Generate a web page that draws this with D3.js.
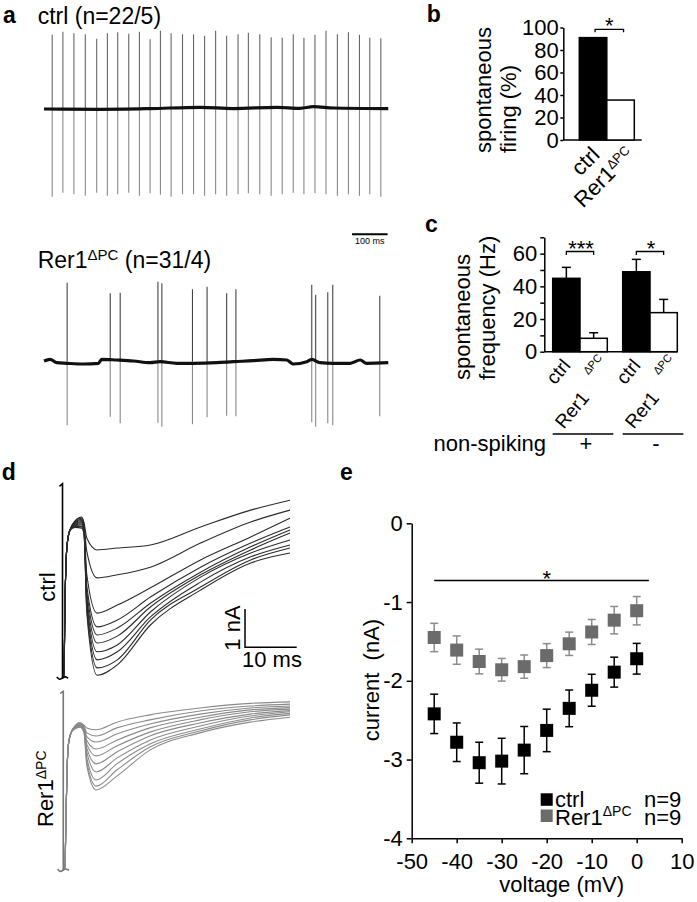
<!DOCTYPE html>
<html>
<head>
<meta charset="utf-8">
<script src="https://cdn.jsdelivr.net/npm/d3@7/dist/d3.min.js"></script>
<style>
html,body{margin:0;padding:0;background:#fff;}
svg{display:block;}
</style>
</head>
<body>
<svg id="fig" width="697" height="902" xmlns="http://www.w3.org/2000/svg"></svg>
<script>
// ================= DATA =================
// ---- Panel a : spontaneous firing traces (time in ms, amplitude in pA) ----
const aCtrlSpikeT = [23,53,84,116,148,178,207,238,268,298,327,357,389,420,451,482,513,545,574,606,638,669,700,730,761,792,824,855,886,915,946];
const aCtrlSpikePeak = [147,153,150,148,139,150,152,149,153,138,155,150,148,148,145,155,145,148,151,148,142,141,148,141,147,155,148,152,147,141,140];
const aCtrlSpikeTrough = [-177,-169,-172,-175,-169,-175,-172,-169,-175,-170,-173,-177,-172,-172,-175,-172,-175,-172,-170,-172,-175,-172,-169,-172,-170,-172,-175,-172,-175,-172,-177];
const aCtrlBaseT = [0,157,298,438,532,654,719,757,813,967];
const aCtrlBaseV = [-1.4,-2,-0.6,2,-0.6,2,0,3.2,0.6,-0.6];
const aRerSpikeT = [65,186,214,320,331,417,458,513,539,752,763,797,811,943];
const aRerSpikePeak = [158,137,138,160,157,145,150,137,145,154,134,139,154,132];
const aRerSpikeTrough = [-127,-110,-123,-122,-130,-125,-111,-108,-109,-121,-130,-123,-127,-109];
const aRerBaseT = [0,17,36,64,110,153,162,204,251,298,326,373,419,485,532,588,644,682,700,738,752,775,813,860,888,906,967];
const aRerBaseV = [1.4,4.8,-2,-3.2,-4.6,-3.2,4.8,3.4,1.4,-2,0,-3.2,-3.2,-2,0,2,4.8,3.4,-4.6,0,4.8,-2,-3.2,-3.2,3.4,-3.2,-2];
const aScaleBar = [865, 965];   // 100 ms
const aCtrlTitle = "ctrl (n=22/5)";
const aRerTitleRest = " (n=31/4)";

// ---- Panel b : spontaneous firing (%) ----
const bCategories = ["ctrl", "Rer1"];
const bValues = [91, 35.5];
const bTicks = [0, 20, 40, 60, 80, 100];

// ---- Panel c : spontaneous frequency (Hz) ----
const cGroups = ["+", "-"];
const cCategories = ["ctrl", "Rer1"];
const cCtrlMean = [44.9, 48.9];
const cCtrlSem  = [6.7, 7.6];
const cRerMean  = [8.2, 23.9];
const cRerSem   = [3.4, 8.1];
const cStars = ["***", "*"];
const cTicks = [0, 10, 20, 30, 40, 50, 60, 70];
const cTickLabels = [0, 20, 40, 60];

// ---- Panel d : Ca current traces (time in ms, current in nA) ----
const dCtrlRiseT = [0.15, 0.3, 0.48, 0.68, 0.93, 1.45];
const dCtrlRiseI = [-4.2, -4.0, -2.25, -1.2, -0.68, -0.34];
const dCtrlT = [2.42, 3.71, 4.16, 4.7, 6.7, 10.6, 17, 26.7, 36.4, 44];
const dCtrlTraces = [
  [-0.10, 0.00, -0.15, -0.55, -0.86, -0.81, -0.73, -0.26, 0.18, 0.44],
  [-0.12, -0.03, -0.20, -0.90, -1.59, -1.51, -1.31, -0.68, -0.13, 0.18],
  [-0.13, -0.06, -0.25, -1.50, -2.51, -2.30, -1.85, -1.12, -0.52, -0.03],
  [-0.15, -0.09, -0.30, -1.80, -2.87, -2.69, -2.09, -1.31, -0.68, -0.26],
  [-0.17, -0.12, -0.30, -1.95, -3.08, -2.90, -2.25, -1.44, -0.78, -0.34],
  [-0.19, -0.15, -0.35, -2.10, -3.29, -3.11, -2.35, -1.51, -0.86, -0.42],
  [-0.21, -0.18, -0.35, -2.20, -3.52, -3.34, -2.48, -1.57, -0.94, -0.60],
  [-0.23, -0.21, -0.40, -2.30, -3.73, -3.52, -2.61, -1.70, -1.04, -0.73],
  [-0.25, -0.25, -0.40, -2.40, -3.94, -3.73, -2.69, -1.83, -1.12, -0.81],
  [-0.27, -0.29, -0.45, -2.50, -4.13, -3.86, -2.82, -1.91, -1.20, -0.94]
];
const dRerRiseT = [0.15, 0.48, 0.68, 0.93, 1.26];
const dRerRiseI = [-3.83, -3.74, -2.35, -1.04, -0.44];
const dRerT = [2.1, 3.4, 4.16, 4.7, 6.5, 10.5, 16.9, 26.6, 36.3, 44];
const dRerTraces = [
  [-0.12, 0.02, -0.05, -0.12, -0.17, 0.03, 0.22, 0.40, 0.52, 0.56],
  [-0.13, 0.00, -0.08, -0.25, -0.33, -0.12, 0.09, 0.32, 0.45, 0.50],
  [-0.13, -0.02, -0.10, -0.35, -0.49, -0.28, -0.02, 0.24, 0.40, 0.45],
  [-0.14, -0.03, -0.12, -0.45, -0.67, -0.44, -0.12, 0.16, 0.35, 0.41],
  [-0.14, -0.04, -0.14, -0.55, -0.85, -0.59, -0.23, 0.09, 0.30, 0.37],
  [-0.15, -0.05, -0.16, -0.65, -1.06, -0.75, -0.33, 0.01, 0.24, 0.33],
  [-0.15, -0.06, -0.18, -0.75, -1.27, -0.91, -0.44, -0.07, 0.19, 0.30],
  [-0.16, -0.08, -0.20, -0.90, -1.48, -1.06, -0.54, -0.15, 0.14, 0.26],
  [-0.16, -0.09, -0.22, -1.00, -1.64, -1.22, -0.62, -0.20, 0.09, 0.22],
  [-0.17, -0.10, -0.24, -1.10, -1.74, -1.38, -0.70, -0.25, 0.03, 0.16]
];
const dCtrlTransient = [[-0.6, 0.80], [0, 0.87], [0, -4.22]];
const dRerTransient  = [[-0.45, 0.78], [0.15, 0.83], [0.15, -3.85]];
const dScaleBar = {t: 35.3, i: -3.4, dt: 10, di: 1};

// ---- Panel e : I-V relationship ----
const eVoltage = [-45, -40, -35, -30, -25, -20, -15, -10, -5, 0];
const eCtrlI   = [-2.42, -2.78, -3.04, -3.02, -2.88, -2.63, -2.35, -2.12, -1.89, -1.72];
const eCtrlErr = [0.25, 0.245, 0.26, 0.29, 0.30, 0.27, 0.233, 0.203, 0.19, 0.195];
const eRerI    = [-1.45, -1.61, -1.755, -1.86, -1.82, -1.68, -1.53, -1.38, -1.23, -1.11];
const eRerErr  = [0.18, 0.18, 0.157, 0.144, 0.148, 0.152, 0.148, 0.159, 0.174, 0.18];
const eXTicks = [-50, -40, -30, -20, -10, 0, 10];
const eYTicks = [0, -1, -2, -3, -4];
const eSig = {from: -45, to: 2.7, level: -0.726, starAt: -20};
const eN = ["n=9", "n=9"];

// ================= DRAWING =================
const F = '"Liberation Sans", Arial, Helvetica, sans-serif';
const svg = d3.select("#fig").style("font-family", F);

function text(x, y, s, size, attrs) {
  const t = svg.append("text").attr("x", x).attr("y", y)
    .attr("font-size", size).attr("fill", "#000").text(s);
  if (attrs) Object.entries(attrs).forEach(([k, v]) => t.attr(k, v));
  return t;
}
function rerText(sel, supSize, supDy, supDx, rest) {
  sel.append("tspan").text("Rer1");
  sel.append("tspan").attr("font-size", supSize).attr("dy", supDy).attr("dx", supDx || 0).text("\u0394PC");
  if (rest) sel.append("tspan").attr("dy", -supDy).text(rest);
  return sel;
}
function styleAxis(g, size) {
  g.attr("font-family", F);
  g.selectAll("path.domain").attr("stroke", "#000").attr("stroke-width", 1.5);
  g.selectAll(".tick line").attr("stroke", "#000").attr("stroke-width", 1.5);
  g.selectAll(".tick text").attr("font-size", size).attr("fill", "#000").attr("font-family", F);
}

// panel letters
[["a", 3, 23.3], ["b", 426.7, 21.7], ["c", 425, 232], ["d", 1.7, 480], ["e", 340, 480]]
  .forEach(([l, x, y]) => text(x, y, l, 23, {"font-weight": "bold"}));

// ---------- Panel a ----------
const aX = d3.scaleLinear().domain([0, 967]).range([44, 388.3]);
const aYTop = d3.scaleLinear().domain([-200, 200]).range([208.3, 8.3]);
const aYBot = d3.scaleLinear().domain([-200, 200]).range([461.7, 261.7]);

function drawTrace(times, peaks, troughs, baseT, baseV, yS, upColor) {
  const g = svg.append("g");
  times.forEach((t, i) => {
    g.append("line").attr("x1", aX(t)).attr("x2", aX(t))
      .attr("y1", yS(0)).attr("y2", yS(peaks[i]))
      .attr("stroke", upColor).attr("stroke-width", 1.1);
    g.append("line").attr("x1", aX(t)).attr("x2", aX(t))
      .attr("y1", yS(0)).attr("y2", yS(troughs[i]))
      .attr("stroke", "#8a8a8a").attr("stroke-width", 1.1);
  });
  const line = d3.line().x(d => aX(d[0])).y(d => yS(d[1])).curve(d3.curveMonotoneX);
  g.append("path").attr("d", line(baseT.map((t, i) => [t, baseV[i]])))
    .attr("fill", "none").attr("stroke", "#111").attr("stroke-width", 3.2);
}
drawTrace(aCtrlSpikeT, aCtrlSpikePeak, aCtrlSpikeTrough, aCtrlBaseT, aCtrlBaseV, aYTop, "#666");
drawTrace(aRerSpikeT, aRerSpikePeak, aRerSpikeTrough, aRerBaseT, aRerBaseV, aYBot, "#444");

text(37.7, 24.3, aCtrlTitle, 23);
rerText(text(37.7, 268.3, "", 23), 15, -8, 0, aRerTitleRest);

svg.append("line").attr("x1", aX(aScaleBar[0])).attr("x2", aX(aScaleBar[1]))
  .attr("y1", 234.3).attr("y2", 234.3).attr("stroke", "#000").attr("stroke-width", 2);
text((aX(aScaleBar[0]) + aX(aScaleBar[1])) / 2, 244, "100 ms", 9, {"text-anchor": "middle"});

// ---------- Panel b ----------
const bY = d3.scaleLinear().domain([0, 100]).range([140, 27.5]);
const bX = d3.scaleBand().domain(bCategories).range([579.3, 634.3]);
const bAxis = svg.append("g").attr("transform", "translate(563.3,0)")
  .call(d3.axisLeft(bY).tickValues(bTicks).tickSize(3).tickPadding(1.5).tickSizeOuter(0));
styleAxis(bAxis, 22);
svg.append("line").attr("x1", 563.3).attr("x2", 641.7).attr("y1", 140).attr("y2", 140)
  .attr("stroke", "#000").attr("stroke-width", 1.5);
bCategories.forEach((c, i) => {
  svg.append("rect").attr("x", bX(c)).attr("y", bY(bValues[i]))
    .attr("width", bX.bandwidth()).attr("height", bY(0) - bY(bValues[i]))
    .attr("fill", i === 0 ? "#000" : "#fff").attr("stroke", "#000").attr("stroke-width", 1.5);
});
{
  const x1 = bX("ctrl") + bX.bandwidth() / 2 + 2, x2 = bX("Rer1") + bX.bandwidth() / 2 + 3;
  svg.append("path").attr("d", `M${x1},32.3V29.3H${x2}V32.3`).attr("fill", "none")
    .attr("stroke", "#000").attr("stroke-width", 1.3);
  text((x1 + x2) / 2, 33.3, "*", 22, {"text-anchor": "middle"});
}
// b y-label
text(0, 0, "spontaneous", 22, {"transform": "translate(490.5,153) rotate(-90)"});
text(0, 0, "firing (%)", 22, {"transform": "translate(516,153) rotate(-90)"});
// b x labels
text(0, 0, "ctrl", 22, {"text-anchor": "end",
  "transform": `translate(${bX("ctrl") + bX.bandwidth() / 2 + 8},156) rotate(-45)`});
rerText(text(0, 0, "", 22, {"text-anchor": "end",
  "transform": `translate(${bX("Rer1") + bX.bandwidth() / 2 + 15},156) rotate(-45)`}), 13, -7, 0);

// ---------- Panel c ----------
const cY = d3.scaleLinear().domain([0, 70]).range([351.7, 237.3]);
const cG = d3.scaleBand().domain(cGroups).range([552.7, 677.3]).paddingInner(0.22);
const cS = d3.scaleBand().domain(cCategories).range([0, cG.bandwidth()]);
const cAxis = svg.append("g").attr("transform", "translate(544.3,0)")
  .call(d3.axisLeft(cY).tickValues(cTicks).tickSize(4).tickPadding(3).tickSizeOuter(0)
    .tickFormat(d => cTickLabels.includes(d) ? String(d) : ""));
styleAxis(cAxis, 22);
svg.append("line").attr("x1", 544.3).attr("x2", 677.3).attr("y1", 351.7).attr("y2", 351.7)
  .attr("stroke", "#000").attr("stroke-width", 1.5);
cGroups.forEach((g, gi) => {
  const means = [cCtrlMean[gi], cRerMean[gi]], sems = [cCtrlSem[gi], cRerSem[gi]];
  cCategories.forEach((c, ci) => {
    const x = cG(g) + cS(c), w = cS.bandwidth(), cx = x + w / 2;
    svg.append("line").attr("x1", cx).attr("x2", cx)
      .attr("y1", cY(means[ci])).attr("y2", cY(means[ci] + sems[ci]))
      .attr("stroke", "#000").attr("stroke-width", 1.5);
    svg.append("line").attr("x1", cx - 4.5).attr("x2", cx + 4.5)
      .attr("y1", cY(means[ci] + sems[ci])).attr("y2", cY(means[ci] + sems[ci]))
      .attr("stroke", "#000").attr("stroke-width", 1.5);
    svg.append("rect").attr("x", x).attr("y", cY(means[ci]))
      .attr("width", w).attr("height", cY(0) - cY(means[ci]))
      .attr("fill", ci === 0 ? "#000" : "#fff").attr("stroke", "#000").attr("stroke-width", 1.5);
    // rotated category labels
    if (ci === 0) {
      text(0, 0, "ctrl", 19, {"text-anchor": "end",
        "transform": `translate(${cx + 5},366) rotate(-50)`});
    } else {
      text(0, 0, "Rer1", 19, {"text-anchor": "end",
        "transform": `translate(${cx - 3.5},398.3) rotate(-50)`});
      text(0, 0, "\u0394PC", 11, {"text-anchor": "start",
        "transform": `translate(${cx - 5.5},375.3) rotate(-50)`});
    }
  });
  const x1 = cG(g) + cS("ctrl") + cS.bandwidth() / 2, x2 = cG(g) + cS("Rer1") + cS.bandwidth() / 2;
  svg.append("path").attr("d", `M${x1},255V251.5H${x2}V255`).attr("fill", "none")
    .attr("stroke", "#000").attr("stroke-width", 1.3);
  text((x1 + x2) / 2 + 1, 256, cStars[gi], 22, {"text-anchor": "middle"});
  // non-spiking group line & sign
  svg.append("line").attr("x1", cG(g)).attr("x2", cG(g) + cG.bandwidth() + 6)
    .attr("y1", 434).attr("y2", 434).attr("stroke", "#000").attr("stroke-width", 1.3);
  text(cG(g) + cG.bandwidth() / 2 + 6, 451, g, 22, {"text-anchor": "middle"});
});
text(546, 451, "non-spiking", 22, {"text-anchor": "end"});
text(0, 0, "spontaneous", 22, {"transform": "translate(470,380) rotate(-90)"});
text(0, 0, "frequency (Hz)", 22, {"transform": "translate(495,380) rotate(-90)"});

// ---------- Panel d ----------
const dX = d3.scaleLinear().domain([0, 44]).range([62.5, 290]);
const dYc = d3.scaleLinear().domain([-5, 1]).range([517 + 5 * 38.3, 517 - 38.3]);
const dYr = d3.scaleLinear().domain([-5, 1]).range([723.3 + 5 * 38.3, 723.3 - 38.3]);
function drawD(riseT, riseI, T, traces, transient, yS, color, transColor) {
  const g = svg.append("g");
  const smooth = d3.line().x(d => dX(d[0])).y(d => yS(d[1])).curve(d3.curveMonotoneX);
  const lin = d3.line().x(d => dX(d[0])).y(d => yS(d[1]));
  traces.forEach(tr => {
    const pts = riseT.map((t, i) => [t, riseI[i]]).concat(T.map((t, i) => [t, tr[i]]));
    g.append("path").attr("d", smooth(pts)).attr("fill", "none")
      .attr("stroke", color).attr("stroke-width", 1.1);
  });
  g.append("path").attr("d", lin(transient)).attr("fill", "none")
    .attr("stroke", transColor).attr("stroke-width", 1.6);
  const b = transient[2];
  const tilde = [[b[0] - 1.1, b[1] + 0.04], [b[0] - 0.6, b[1] - 0.04], [b[0], b[1] + 0.02], [b[0] + 0.5, b[1] + 0.06], [b[0] + 1.1, b[1] + 0.01]];
  g.append("path").attr("d", d3.line().x(d => dX(d[0])).y(d => yS(d[1])).curve(d3.curveBasis)(tilde))
    .attr("fill", "none").attr("stroke", transColor).attr("stroke-width", 1.6);
}
drawD(dCtrlRiseT, dCtrlRiseI, dCtrlT, dCtrlTraces, dCtrlTransient, dYc, "#2b2b2b", "#000");
drawD(dRerRiseT, dRerRiseI, dRerT, dRerTraces, dRerTransient, dYr, "#8a8a8a", "#777");
// scale bar
svg.append("path")
  .attr("d", `M${dX(dScaleBar.t)},${dYc(dScaleBar.i + dScaleBar.di)}V${dYc(dScaleBar.i)}H${dX(dScaleBar.t + dScaleBar.dt)}`)
  .attr("fill", "none").attr("stroke", "#000").attr("stroke-width", 1.5);
text(0, 0, "1 nA", 22, {"text-anchor": "middle",
  "transform": `translate(${dX(dScaleBar.t) - 5},${(dYc(dScaleBar.i) + dYc(dScaleBar.i + dScaleBar.di)) / 2}) rotate(-90)`});
text(dX(dScaleBar.t) - 3, 666.7, "10 ms", 22);
text(0, 0, "ctrl", 22, {"text-anchor": "middle", "transform": "translate(55,587) rotate(-90)"});
rerText(text(0, 0, "", 22, {"transform": "translate(53,827) rotate(-90)"}), 14, -7, 0);

// ---------- Panel e ----------
const eX = d3.scaleLinear().domain([-50, 10]).range([411.7, 681.7]);
const eY = d3.scaleLinear().domain([-4, 0]).range([838.3, 523.3]);
const eYAxis = svg.append("g").attr("transform", "translate(411.7,0)")
  .call(d3.axisLeft(eY).tickValues(eYTicks).tickSize(5).tickPadding(4).tickSizeOuter(0)
    .tickFormat(d => String(d)));
styleAxis(eYAxis, 22);
const eXAxis = svg.append("g").attr("transform", "translate(0,838.3)")
  .call(d3.axisBottom(eX).tickValues(eXTicks).tickSize(5).tickPadding(10).tickSizeOuter(0)
    .tickFormat(d => String(d)));
styleAxis(eXAxis, 22);
text(561.7, 892, "voltage (mV)", 22, {"text-anchor": "middle"});
text(0, 0, "current\u00A0 (nA)", 22, {"text-anchor": "middle", "transform": "translate(379,680) rotate(-90)"});

function drawSeries(I, err, fill, errColor) {
  eVoltage.forEach((v, i) => {
    const cx = eX(v);
    svg.append("line").attr("x1", cx).attr("x2", cx)
      .attr("y1", eY(I[i] - err[i])).attr("y2", eY(I[i] + err[i]))
      .attr("stroke", errColor).attr("stroke-width", 1.5);
    [I[i] - err[i], I[i] + err[i]].forEach(yv => {
      svg.append("line").attr("x1", cx - 4).attr("x2", cx + 4)
        .attr("y1", eY(yv)).attr("y2", eY(yv)).attr("stroke", errColor).attr("stroke-width", 1.5);
    });
    svg.append("rect").attr("x", cx - 6.5).attr("y", eY(I[i]) - 6.5)
      .attr("width", 13).attr("height", 13).attr("fill", fill);
  });
}
drawSeries(eRerI, eRerErr, "#6b6b6b", "#8c8c8c");
drawSeries(eCtrlI, eCtrlErr, "#000", "#000");

svg.append("line").attr("x1", eX(eSig.from)).attr("x2", eX(eSig.to))
  .attr("y1", eY(eSig.level)).attr("y2", eY(eSig.level))
  .attr("stroke", "#000").attr("stroke-width", 1.5);
text(eX(eSig.starAt), 586, "*", 22, {"text-anchor": "middle"});

// legend
svg.append("rect").attr("x", 540.7).attr("y", 793.3).attr("width", 12).attr("height", 12.5).attr("fill", "#000");
svg.append("rect").attr("x", 540.7).attr("y", 809.5).attr("width", 12).attr("height", 12.5).attr("fill", "#6b6b6b");
text(555, 806.7, "ctrl", 22);
rerText(text(555, 824.5, "", 22), 14, -9, 0);
text(644, 806.7, eN[0], 22);
text(644, 824.5, eN[1], 22);
</script>
</body>
</html>
